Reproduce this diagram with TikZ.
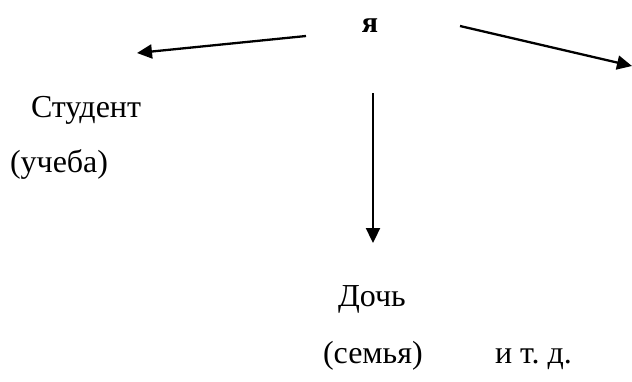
\documentclass[tikz,border=0pt]{standalone}
\usepackage{fontspec}
\setmainfont{Liberation Serif}
\newfontfamily\wordfont{Liberation Serif}
\usetikzlibrary{positioning,arrows.meta}

\begin{document}
\begin{tikzpicture}[x=1pt, y=-1pt, outer sep=0pt, inner sep=0pt,
    word/.style={anchor=base west, font=\wordfont\fontsize{32}{36}\selectfont},
    link/.style={line width=2.3pt, -{Triangle[length=15pt,width=14pt]}}]
    \useasboundingbox (0,0) rectangle (632,381);
    \node (ya) [anchor=base, font=\wordfont\fontsize{30}{34}\selectfont\bfseries] at (370,32) {я};
    \node (student) [word] at (31,117) {Студент};
    \node (study) [word] at (10,172) {(учеба)};
    \node (daughter) [word] at (338,306) {Дочь};
    \node (family) [word] at (323,363) {(семья)};
    \node (etc) [word] at (495,363) {и т.~д.};
    % arrow ends
    \coordinate (left start) at (306,36);
    \coordinate (left end) at (137,53);
    \coordinate (right start) at (460,26);
    \coordinate (right end) at (632,66);
    \coordinate (down start) at (373,93);
    \coordinate (down end) at (373,243);
    \draw[link] (left start) -- (left end);
    \draw[link] (right start) -- (right end);
    \draw[link] (down start) -- (down end);
\end{tikzpicture}
\end{document}
